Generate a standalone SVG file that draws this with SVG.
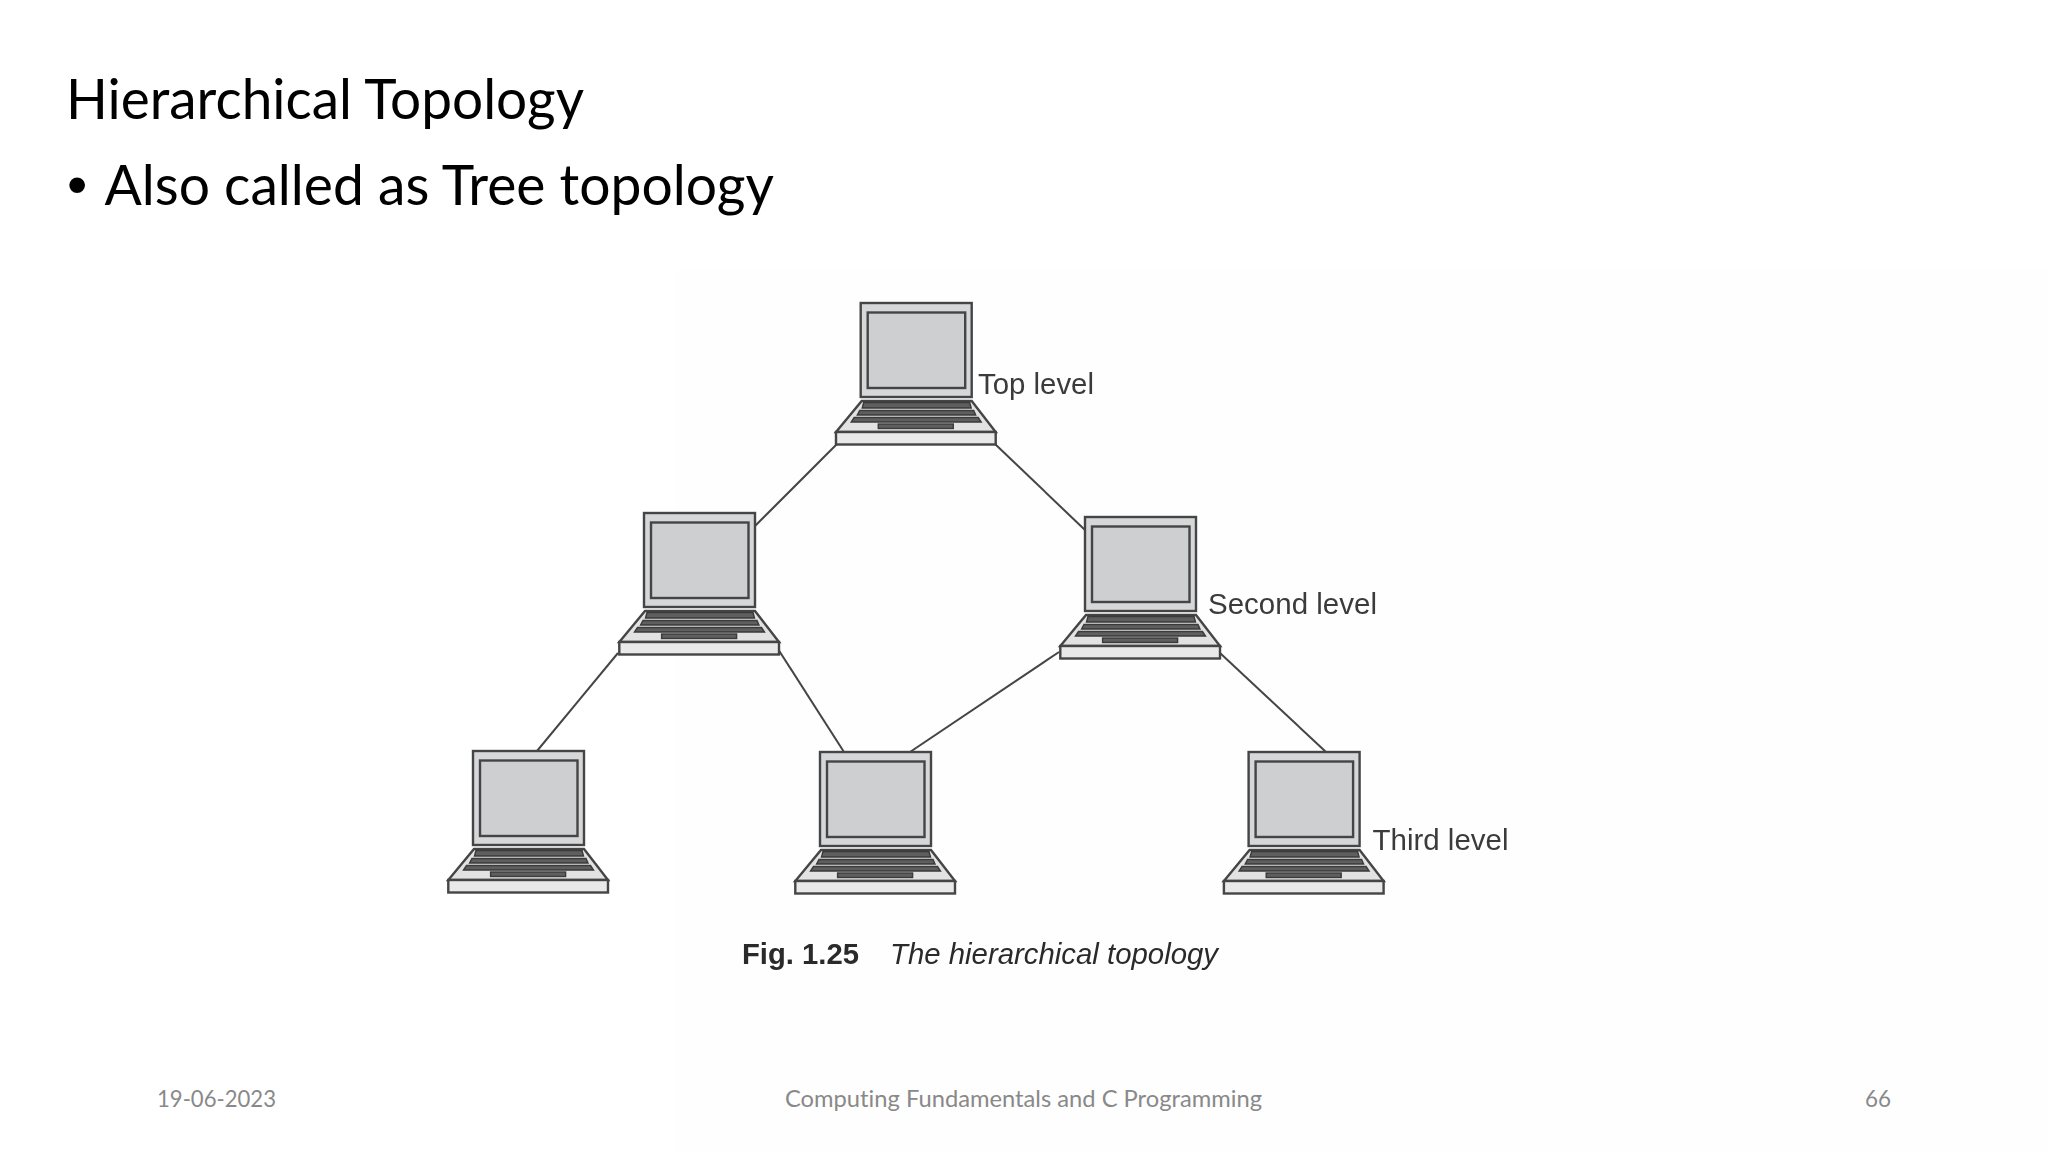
<svg xmlns="http://www.w3.org/2000/svg" xmlns:xlink="http://www.w3.org/1999/xlink" width="2048" height="1152" viewBox="0 0 2048 1152">
<style>
text{font-variant-ligatures:none}
.head{font-family:"Lato","Open Sans",sans-serif;font-size:56px;fill:#000}
.bul{font-family:"Liberation Sans",Arial,sans-serif;font-size:58px;fill:#000}
.foot{font-family:"Lato","Open Sans",sans-serif;font-size:24px;fill:#898989}
.lab{font-family:"Liberation Sans",Arial,sans-serif;font-size:29px;fill:#3a3a3a}
.cap{font-family:"Liberation Sans",Arial,sans-serif;font-size:29px;fill:#2a2a2a}
.l{stroke:#444;stroke-width:2;fill:none}
.s{stroke:#444;stroke-width:2.4}
.k{stroke:#3a3a3a;stroke-width:1.4;fill:#5e5e5e}
</style>
<defs>
<filter id="soft" x="-5%" y="-5%" width="110%" height="110%"><feGaussianBlur stdDeviation="0.5"/></filter>
<g id="laptop">
<rect class="s" x="0" y="0" width="111" height="94" fill="#d6d7d8"/>
<rect class="s" x="7" y="9.5" width="97.5" height="75.5" fill="#cdcfd1"/>
<polygon class="s" points="1,98 111,98 135,129 -24.700,129" fill="#e2e2e2"/>
<polygon class="k" points="3,99.500 109,99.500 110.500,105 1.500,105"/>
<polygon class="k" points="-1,107.500 113,107.500 115,112 -3.400,112"/>
<polygon class="k" points="-6.500,114.500 117.500,114.500 120.500,119 -9.500,119"/>
<rect class="k" x="17.600" y="121" width="75" height="4.500"/>
<rect class="s" x="-24.700" y="129" width="159.700" height="12.500" fill="#e9e9e9"/>
</g>
</defs>
<rect width="2048" height="1152" fill="#fff"/>
<rect x="675" y="270" width="1373" height="882" fill="#fefefe"/>
<text class="head" x="66" y="118.500" textLength="518" lengthAdjust="spacingAndGlyphs">Hierarchical Topology</text>
<text class="bul" x="67" y="204">•</text>
<text class="head" x="104.500" y="204.500" textLength="669.500" lengthAdjust="spacingAndGlyphs">Also called as Tree topology</text>
<g filter="url(#soft)">
<g id="connectors">
<line class="l" x1="837" y1="444" x2="755" y2="526"/>
<line class="l" x1="995" y1="444" x2="1085" y2="530"/>
<line class="l" x1="618" y1="653" x2="537" y2="751"/>
<line class="l" x1="778" y1="649" x2="844" y2="752"/>
<line class="l" x1="1059" y1="652" x2="910" y2="752"/>
<line class="l" x1="1220" y1="653" x2="1326" y2="752"/>
</g>
<g id="top"><use xlink:href="#laptop" href="#laptop" x="860.700" y="303"/><text class="lab" x="978" y="394" textLength="116" lengthAdjust="spacingAndGlyphs">Top level</text></g>
<g id="second-left"><use xlink:href="#laptop" href="#laptop" x="644" y="513"/></g>
<g id="second-right"><use xlink:href="#laptop" href="#laptop" x="1085" y="517"/><text class="lab" x="1208" y="614" textLength="169" lengthAdjust="spacingAndGlyphs">Second level</text></g>
<g id="third-left"><use xlink:href="#laptop" href="#laptop" x="473" y="751"/></g>
<g id="third-middle"><use xlink:href="#laptop" href="#laptop" x="820" y="752"/></g>
<g id="third-right"><use xlink:href="#laptop" href="#laptop" x="1248.600" y="752"/><text class="lab" x="1372.500" y="850" textLength="136" lengthAdjust="spacingAndGlyphs">Third level</text></g>
<text class="cap" x="742" y="964" font-weight="bold" textLength="117" lengthAdjust="spacingAndGlyphs">Fig. 1.25</text>
<text class="cap" x="890" y="964" font-style="italic" textLength="328" lengthAdjust="spacingAndGlyphs">The hierarchical topology</text>
</g>
<text class="foot" x="157" y="1107" textLength="119" lengthAdjust="spacingAndGlyphs">19-06-2023</text>
<text class="foot" x="785" y="1107" textLength="477" lengthAdjust="spacingAndGlyphs">Computing Fundamentals and C Programming</text>
<text class="foot" x="1865" y="1107" textLength="26" lengthAdjust="spacingAndGlyphs">66</text>
</svg>
